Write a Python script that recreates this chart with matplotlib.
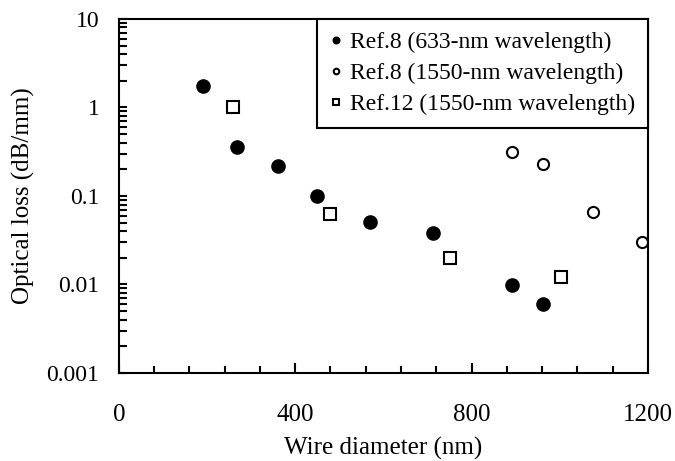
import numpy as np
import matplotlib
matplotlib.use("Agg")
import matplotlib.pyplot as plt
from matplotlib.ticker import MultipleLocator, LogLocator, FuncFormatter

plt.rcParams['font.family'] = ['Liberation Serif', 'DejaVu Serif']

# Ref.8, 633 nm (filled circles)
d_633 = [191, 268, 361, 449, 569, 712, 892, 962]
loss_633 = [1.75, 0.36, 0.22, 0.10, 0.051, 0.038, 0.0099, 0.006]

# Ref.8, 1550 nm (open circles)
d_1550 = [892, 962, 1075, 1187]
loss_1550 = [0.31, 0.23, 0.066, 0.030]

# Ref.12, 1550 nm (open squares)
d_ref12 = [259, 479, 751, 1003]
loss_ref12 = [1.0, 0.063, 0.020, 0.0122]

labels = ["Ref.8 (633-nm wavelength)", "Ref.8 (1550-nm wavelength)",
          "Ref.12 (1550-nm wavelength)"]

fig = plt.figure(figsize=(6.75, 4.61), dpi=100)
ax = fig.add_axes([0.176, 0.191, 0.784, 0.768])

ax.plot(d_633, loss_633, 'o', color='black', markersize=9.5, label=labels[0])
ax.plot(d_1550, loss_1550, 'o', mfc='white', mec='black', mew=1.5,
        markersize=8, label=labels[1])
ax.plot(d_ref12, loss_ref12, 's', mfc='white', mec='black', mew=1.5,
        markersize=8, label=labels[2])

ax.set_yscale('log')
ax.set_xlim(0, 1200)
ax.set_ylim(0.001, 10)

ax.xaxis.set_major_locator(MultipleLocator(400))
ax.xaxis.set_minor_locator(MultipleLocator(80))
ax.yaxis.set_major_locator(LogLocator(base=10))
ax.yaxis.set_minor_locator(LogLocator(base=10, subs=np.arange(2, 10)))
ax.yaxis.set_major_formatter(FuncFormatter(lambda v, p: '%g' % v))
ax.yaxis.set_minor_formatter(FuncFormatter(lambda v, p: ''))

ax.tick_params(which='both', direction='in', width=1.5, labelsize=17,
               top=False, right=False)
ax.tick_params(axis='x', which='major', length=7, pad=22, labelsize=18)
ax.tick_params(axis='x', which='minor', length=5)
ax.tick_params(axis='y', which='both', length=6, pad=14)

for s in ax.spines.values():
    s.set_linewidth(1.5)

ax.set_xlabel('Wire diameter (nm)', fontsize=18, labelpad=8)
ax.set_ylabel('Optical loss (dB/mm)', fontsize=18, labelpad=8)

leg = ax.legend(loc='upper right', borderaxespad=0, fontsize=17,
                markerscale=0.5, handlelength=0.5, handletextpad=0.35,
                labelspacing=0.4, borderpad=0.55, fancybox=False,
                framealpha=1, edgecolor='black')
leg.get_frame().set_linewidth(1.5)

fig.savefig('out.png', dpi=100)
